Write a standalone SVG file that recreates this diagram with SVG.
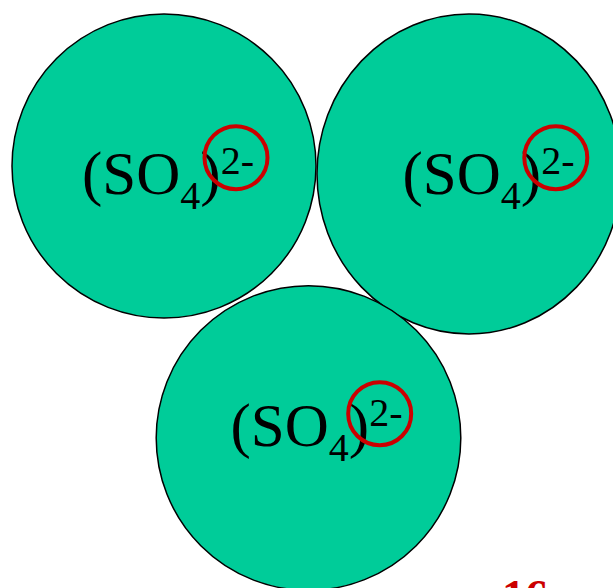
<svg xmlns="http://www.w3.org/2000/svg" width="613" height="588" viewBox="0 0 613 588">
<style>
.ion{fill:#00CC99;stroke:#000;stroke-width:1.5}
.ring{fill:none;stroke:#CC0000;stroke-width:4}
.lbl{font-family:"Liberation Serif","Times New Roman",serif;font-size:61px;fill:#000}
.s{font-size:40px}
.num{font-family:"Liberation Serif","Times New Roman",serif;font-size:46px;font-weight:bold;fill:#CC0000}
</style>
<rect width="613" height="588" fill="#fff"/>
<g id="ion1">
<circle class="ion" cx="164" cy="166" r="152"/>
<text class="lbl" x="82" y="193.5">(SO<tspan class="s" dy="15">4</tspan><tspan dy="-15">)</tspan><tspan class="s" dy="-20">2-</tspan></text>
<circle class="ring" cx="236" cy="157.7" r="31.5"/>
</g>
<g id="ion2">
<ellipse class="ion" cx="469" cy="174" rx="152" ry="160"/>
<text class="lbl" x="402.5" y="193.5">(SO<tspan class="s" dy="15">4</tspan><tspan dy="-15">)</tspan><tspan class="s" dy="-20">2-</tspan></text>
<circle class="ring" cx="555.8" cy="157.7" r="31.5"/>
</g>
<g id="ion3">
<circle class="ion" cx="308.5" cy="438" r="152.3"/>
<text class="lbl" x="230.5" y="446">(SO<tspan class="s" dy="15">4</tspan><tspan dy="-15">)</tspan><tspan class="s" dy="-20">2-</tspan></text>
<circle class="ring" cx="379.7" cy="413.7" r="31.5"/>
</g>
<g id="connectors"/>
<text class="num" x="502" y="612">16</text>
</svg>
